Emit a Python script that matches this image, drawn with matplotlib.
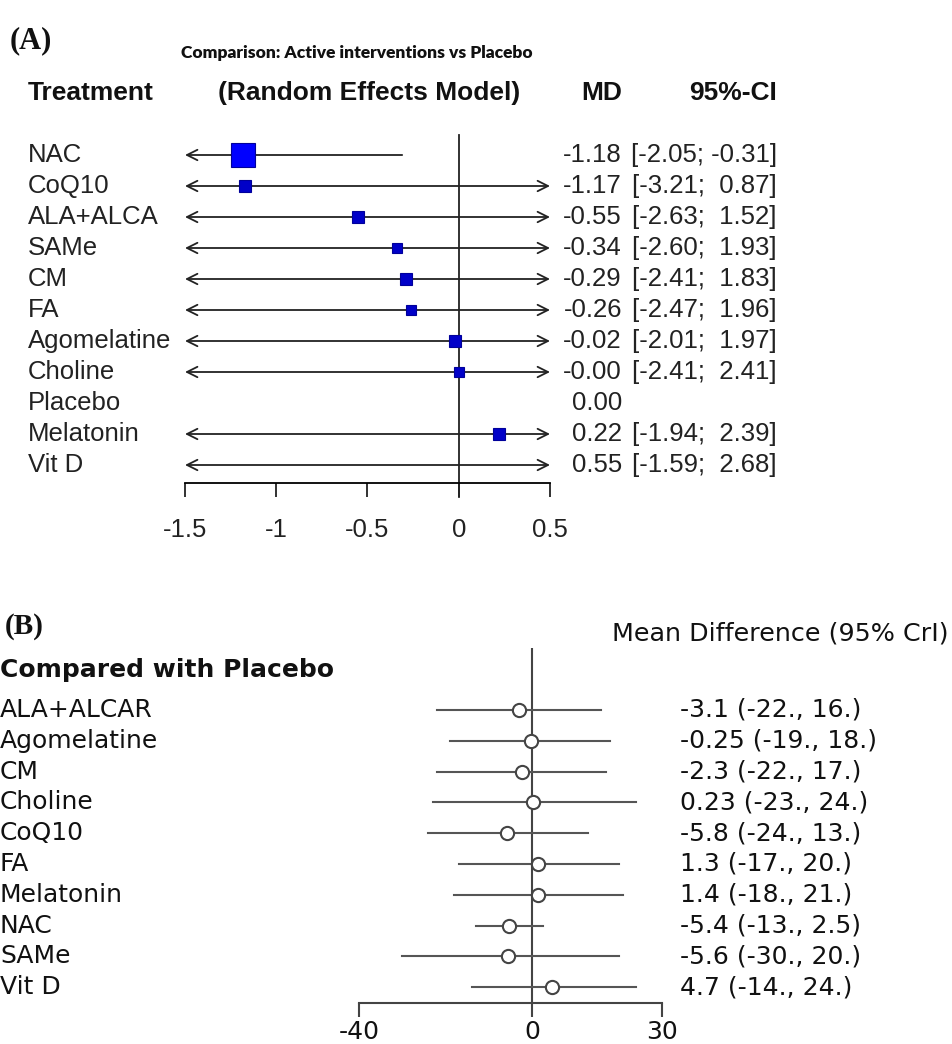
import matplotlib
matplotlib.use('Agg')
import matplotlib.pyplot as plt
from matplotlib import transforms

# ---------------- data ----------------
treatments_A = ['NAC', 'CoQ10', 'ALA+ALCA', 'SAMe', 'CM', 'FA', 'Agomelatine',
                'Choline', 'Placebo', 'Melatonin', 'Vit D']
md_A = [-1.18, -1.17, -0.55, -0.34, -0.29, -0.26, -0.02, -0.00, 0.00, 0.22, 0.55]
lo_A = [-2.05, -3.21, -2.63, -2.60, -2.41, -2.47, -2.01, -2.41, None, -1.94, -1.59]
hi_A = [-0.31, 0.87, 1.52, 1.93, 1.83, 1.96, 1.97, 2.41, None, 2.39, 2.68]
weight_A = [1.0, 0.47, 0.47, 0.44, 0.48, 0.45, 0.48, 0.44, 0.0, 0.47, 0.47]
ticks_A = [-1.5, -1, -0.5, 0, 0.5]
ticklabels_A = ['-1.5', '-1', '-0.5', '0', '0.5']

treatments_B = ['ALA+ALCAR', 'Agomelatine', 'CM', 'Choline', 'CoQ10', 'FA',
                'Melatonin', 'NAC', 'SAMe', 'Vit D']
md_B = [-3.1, -0.25, -2.3, 0.23, -5.8, 1.3, 1.4, -5.4, -5.6, 4.7]
lo_B = [-22, -19, -22, -23, -24, -17, -18, -13, -30, -14]
hi_B = [16, 18, 17, 24, 13, 20, 21, 2.5, 20, 24]
text_B = ['-3.1 (-22., 16.)', '-0.25 (-19., 18.)', '-2.3 (-22., 17.)',
          '0.23 (-23., 24.)', '-5.8 (-24., 13.)', '1.3 (-17., 20.)',
          '1.4 (-18., 21.)', '-5.4 (-13., 2.5)', '-5.6 (-30., 20.)',
          '4.7 (-14., 24.)']
ticks_B = [-40, 0, 30]
ticklabels_B = ['-40', '0', '30']

# ---------------- layout helpers ----------------
W, H = 953, 1044
fig = plt.figure(figsize=(W / 100, H / 100), dpi=100)
fig.patch.set_facecolor('white')


def fx(x):
    return x / W


def fy(y):
    return 1 - y / H


ARIAL = 'Liberation Sans'
DJ = 'DejaVu Sans'
FS_A = 18.5

# ================= Panel A =================
A_left, A_right, A_top, A_bot = 185, 550, 135, 483
A_row0, A_step = 155, 31
axA = fig.add_axes([fx(A_left), fy(A_bot), (A_right - A_left) / W, (A_bot - A_top) / H])
xminA, xmaxA = -1.5, 0.5
axA.set_xlim(xminA, xmaxA)
yb = (A_bot - A_row0) / A_step
yt = (A_top - A_row0) / A_step
axA.set_ylim(yb, yt)
for s in ['top', 'left', 'right']:
    axA.spines[s].set_visible(False)
axA.spines['bottom'].set_linewidth(1.3)
axA.set_yticks([])
axA.set_xticks(ticks_A)
axA.set_xticklabels(ticklabels_A, fontfamily=ARIAL, fontsize=FS_A)
axA.tick_params(axis='x', length=10, width=1.3, pad=15, colors='#222222')
axA.patch.set_alpha(0)

# vertical zero line
axA.plot([0, 0], [yt, yb + 14 / A_step], color='#222222', lw=1.3, clip_on=False, zorder=2)

for i, (lo, hi, m, w) in enumerate(zip(lo_A, hi_A, md_A, weight_A)):
    if lo is None:
        continue
    lc = max(lo, xminA)
    hc = min(hi, xmaxA)
    left_arrow = lo < xminA
    right_arrow = hi > xmaxA
    style = ('<' if left_arrow else '') + '-' + ('>' if right_arrow else '')
    if style == '-':
        axA.plot([lc, hc], [i, i], color='#222222', lw=1.3, zorder=3)
    else:
        axA.annotate('', xy=(hc, i), xytext=(lc, i), xycoords='data',
                     annotation_clip=False,
                     arrowprops=dict(arrowstyle=style + ',head_length=0.5,head_width=0.25',
                                     lw=1.3, color='#222222', shrinkA=0, shrinkB=0,
                                     mutation_scale=15), zorder=3)
    if xminA <= m <= xmaxA and w > 0:
        ms = 17.5 * w
        fc = '#0000FF' if w >= 1 else '#0000C8'
        axA.plot([m], [i], marker='s', ms=ms, mfc=fc, mec='#00009A', mew=0.8,
                 zorder=4, clip_on=False)

tA = transforms.blended_transform_factory(fig.transFigure, axA.transData)
for i, name in enumerate(treatments_A):
    axA.text(fx(28), i, name, transform=tA, ha='left', va='center',
             fontfamily=ARIAL, fontsize=FS_A, color='#222222')
    axA.text(fx(622), i, f'{md_A[i]:.2f}', transform=tA, ha='right', va='center',
             fontfamily=ARIAL, fontsize=FS_A, color='#222222')
    if lo_A[i] is not None:
        ci = f'[{lo_A[i]:.2f}; {hi_A[i]:5.2f}]'
        axA.text(fx(777), i, ci, transform=tA, ha='right', va='center',
                 fontfamily=ARIAL, fontsize=FS_A, color='#222222')

fig.text(fx(10), fy(41), '(A)', ha='left', va='center', fontfamily='Liberation Serif',
         fontweight='bold', fontsize=22, color='#111111')
fig.text(fx(357), fy(53), 'Comparison: Active interventions vs Placebo', ha='center',
         va='center', fontfamily='Lato', fontweight='heavy', fontsize=12.5, color='#111111')
fig.text(fx(28), fy(93), 'Treatment', ha='left', va='center', fontfamily=ARIAL,
         fontweight='bold', fontsize=19, color='#111111')
fig.text(fx(218), fy(93), '(Random Effects Model)', ha='left', va='center',
         fontfamily=ARIAL, fontweight='bold', fontsize=19, color='#111111')
fig.text(fx(622), fy(93), 'MD', ha='right', va='center', fontfamily=ARIAL,
         fontweight='bold', fontsize=19, color='#111111')
fig.text(fx(777), fy(93), '95%-CI', ha='right', va='center', fontfamily=ARIAL,
         fontweight='bold', fontsize=19, color='#111111')

# ================= Panel B =================
B_left, B_right, B_top, B_bot = 359, 662, 648, 1003
B_row0, B_step = 710, 30.8
axB = fig.add_axes([fx(B_left), fy(B_bot), (B_right - B_left) / W, (B_bot - B_top) / H])
axB.set_xlim(-40, 30)
ybB = (B_bot - B_row0) / B_step
ytB = (B_top - B_row0) / B_step
axB.set_ylim(ybB, ytB)
for s in ['top', 'left', 'right']:
    axB.spines[s].set_visible(False)
axB.spines['bottom'].set_linewidth(1.5)
axB.spines['bottom'].set_color('#444444')
axB.set_yticks([])
axB.set_xticks(ticks_B)
axB.set_xticklabels(ticklabels_B, fontfamily=DJ, fontsize=18)
axB.tick_params(axis='x', length=10, width=1.5, pad=2, colors='#444444', labelcolor='#111111')
axB.patch.set_alpha(0)
axB.axvline(0, color='#444444', lw=1.5, zorder=2)

for i, (lo, hi, m) in enumerate(zip(lo_B, hi_B, md_B)):
    axB.plot([lo, hi], [i, i], color='#555555', lw=1.5, zorder=3)
    axB.plot([m], [i], marker='o', ms=9.5, mfc='white', mec='#444444', mew=1.5, zorder=4)

tB = transforms.blended_transform_factory(fig.transFigure, axB.transData)
for i, name in enumerate(treatments_B):
    axB.text(fx(0), i, name, transform=tB, ha='left', va='center',
             fontfamily=DJ, fontsize=18, color='#111111')
    axB.text(fx(680), i, text_B[i], transform=tB, ha='left', va='center',
             fontfamily=DJ, fontsize=18, color='#111111')

fig.text(fx(5), fy(626), '(B)', ha='left', va='center', fontfamily='Liberation Serif',
         fontweight='bold', fontsize=21, color='#111111')
fig.text(fx(0), fy(670), 'Compared with Placebo', ha='left', va='center',
         fontfamily=DJ, fontweight='bold', fontsize=18, color='#111111')
fig.text(fx(612), fy(633), 'Mean Difference (95% CrI)', ha='left', va='center',
         fontfamily=DJ, fontsize=18.3, color='#111111')

fig.savefig('out.png', dpi=100, facecolor='white')
